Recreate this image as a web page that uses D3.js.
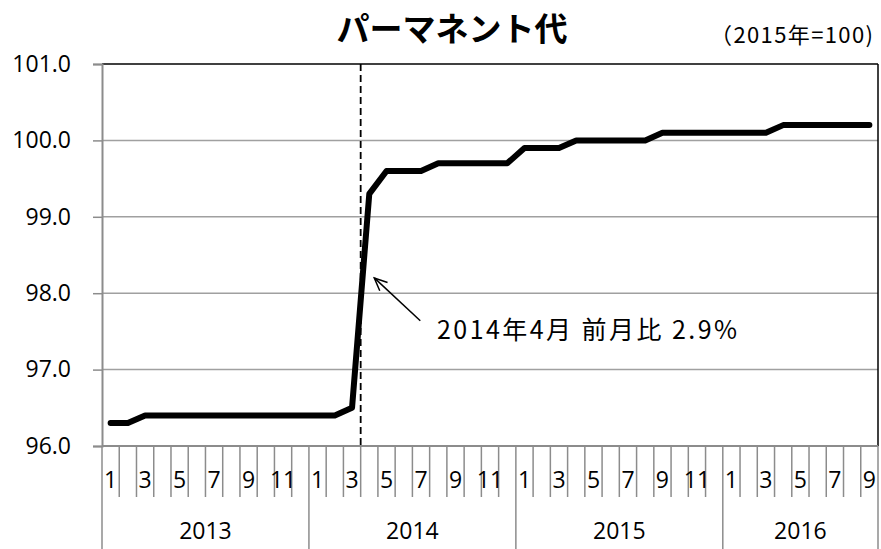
<!DOCTYPE html>
<html>
<head>
<meta charset="utf-8">
<script src="https://cdn.jsdelivr.net/npm/d3@7"></script>
<style>
  html, body { margin: 0; padding: 0; background: #fff; }
  svg { display: block; }
</style>
</head>
<body>
<svg id="chart" width="881" height="549"></svg>
<script>
const years = ["2013", "2014", "2015", "2016"];
const monthsPerYear = [12, 12, 12, 9];
const yTicks = [96, 97, 98, 99, 100, 101];
const values2013 = [96.3, 96.3, 96.4, 96.4, 96.4, 96.4, 96.4, 96.4, 96.4, 96.4, 96.4, 96.4];
const values2014 = [96.4, 96.4, 96.5, 99.3, 99.6, 99.6, 99.6, 99.7, 99.7, 99.7, 99.7, 99.7];
const values2015 = [99.9, 99.9, 99.9, 100.0, 100.0, 100.0, 100.0, 100.0, 100.1, 100.1, 100.1, 100.1];
const values2016 = [100.1, 100.1, 100.1, 100.2, 100.2, 100.2, 100.2, 100.2, 100.2];
const titleText = "パーマネント代";
const baseNote = "（2015年=100)";
const annotationText = "2014年4月 前月比 2.9%";
const markerIndex = 15; // 2014年4月

const values = [].concat(values2013, values2014, values2015, values2016);
const cats = [];
years.forEach((y, yi) => {
  for (let m = 1; m <= monthsPerYear[yi]; m++) cats.push({ year: y, month: m });
});
const data = cats.map((c, i) => ({ ...c, i, v: values[i] }));

const svg = d3.select("#chart");
const L = 102, R = 878, T = 64, B = 446;
const x = d3.scaleBand().domain(d3.range(cats.length)).range([L, R]).padding(0);
const bw = x.bandwidth();
const y = d3.scaleLinear().domain([96, 101]).range([B, T]);

const gridColor = "#a0a0a0";
const axisColor = "#8c8c8c";
const numFont = "'Open Sans', 'Liberation Sans', sans-serif";
const jpFont = "'Noto Sans CJK JP', sans-serif";

// gridlines
svg.append("g").selectAll("line").data(yTicks.filter(t => t > 96 && t < 101)).join("line")
  .attr("x1", L).attr("x2", R).attr("y1", d => y(d)).attr("y2", d => y(d))
  .attr("stroke", gridColor).attr("stroke-width", 1.5);

// plot border top and right (black)
svg.append("line").attr("x1", L).attr("x2", R).attr("y1", T).attr("y2", T)
  .attr("stroke", "#000").attr("stroke-width", 1.5);
svg.append("line").attr("x1", R).attr("x2", R).attr("y1", T).attr("y2", B)
  .attr("stroke", "#000").attr("stroke-width", 1.5);

// y axis
const yAxis = d3.axisLeft(y).tickValues(yTicks).tickSize(9).tickPadding(22)
  .tickFormat(d3.format(".1f"));
const yg = svg.append("g").attr("transform", `translate(${L},0)`).call(yAxis);
yg.select(".domain").attr("stroke", axisColor).attr("stroke-width", 2);
yg.selectAll(".tick line").attr("stroke", axisColor).attr("stroke-width", 1.5);
yg.selectAll(".tick text").attr("font-family", numFont).attr("font-size", 23)
  .attr("fill", "#000");

// x axis baseline
svg.append("line").attr("x1", L).attr("x2", R).attr("y1", B).attr("y2", B)
  .attr("stroke", axisColor).attr("stroke-width", 2);

// month separators
const boundaries = d3.range(cats.length + 1);
let cum = 0;
const yearStarts = [0];
monthsPerYear.forEach(n => { cum += n; yearStarts.push(cum); });
const bx = i => (i < cats.length ? x(i) : x(cats.length - 1) + bw);
svg.append("g").selectAll("line").data(boundaries).join("line")
  .attr("x1", d => bx(d)).attr("x2", d => bx(d))
  .attr("y1", B).attr("y2", d => yearStarts.includes(d) ? 549 : 497)
  .attr("stroke", axisColor).attr("stroke-width", 1.5);

// month labels (odd months)
svg.append("g").selectAll("text").data(data.filter(d => d.month % 2 === 1)).join("text")
  .attr("x", d => x(d.i) + bw / 2).attr("y", 480)
  .attr("dy", "0.35em").attr("text-anchor", "middle")
  .attr("font-family", numFont).attr("font-size", 23).text(d => d.month);

// year labels
svg.append("g").selectAll("text").data(years).join("text")
  .attr("x", (d, i) => (bx(yearStarts[i]) + bx(yearStarts[i + 1])) / 2)
  .attr("y", 531).attr("dy", "0.35em").attr("text-anchor", "middle")
  .attr("font-family", numFont).attr("font-size", 23).text(d => d);

// dashed marker line
svg.append("line").attr("x1", x(markerIndex)).attr("x2", x(markerIndex))
  .attr("y1", T).attr("y2", B)
  .attr("stroke", "#000").attr("stroke-width", 1.8).attr("stroke-dasharray", "7,4");

// data line
const line = d3.line().x(d => x(d.i) + bw / 2).y(d => y(d.v));
svg.append("path").datum(data).attr("d", line)
  .attr("fill", "none").attr("stroke", "#000").attr("stroke-width", 6)
  .attr("stroke-linejoin", "round").attr("stroke-linecap", "round");

// annotation arrow
const tip = [x(markerIndex) + bw / 2 + 5, y(98.2)];
const tail = [tip[0] + 46, y(97.64)];
const ang = Math.atan2(tail[1] - tip[1], tail[0] - tip[0]);
const hl = 14, ha = 0.42;
svg.append("line").attr("x1", tail[0]).attr("y1", tail[1]).attr("x2", tip[0]).attr("y2", tip[1])
  .attr("stroke", "#000").attr("stroke-width", 1.5);
svg.append("path")
  .attr("d", `M${tip[0] + hl * Math.cos(ang - ha)},${tip[1] + hl * Math.sin(ang - ha)}L${tip[0]},${tip[1]}L${tip[0] + hl * Math.cos(ang + ha)},${tip[1] + hl * Math.sin(ang + ha)}`)
  .attr("fill", "none").attr("stroke", "#000").attr("stroke-width", 1.5);

svg.append("text").attr("x", 437).attr("y", 330).attr("dy", "0.35em")
  .attr("font-family", jpFont).attr("font-size", 25)
  .attr("textLength", 300).attr("lengthAdjust", "spacing").text(annotationText);

// title
svg.append("text").attr("x", 452).attr("y", 29).attr("dy", "0.35em")
  .attr("text-anchor", "middle").attr("font-family", jpFont)
  .attr("font-weight", "bold").attr("font-size", 33).text(titleText);

// base note
svg.append("text").attr("x", 710).attr("y", 35).attr("dy", "0.35em")
  .attr("font-family", jpFont).attr("font-size", 22)
  .attr("textLength", 163).attr("lengthAdjust", "spacing").text(baseNote);
</script>
</body>
</html>
